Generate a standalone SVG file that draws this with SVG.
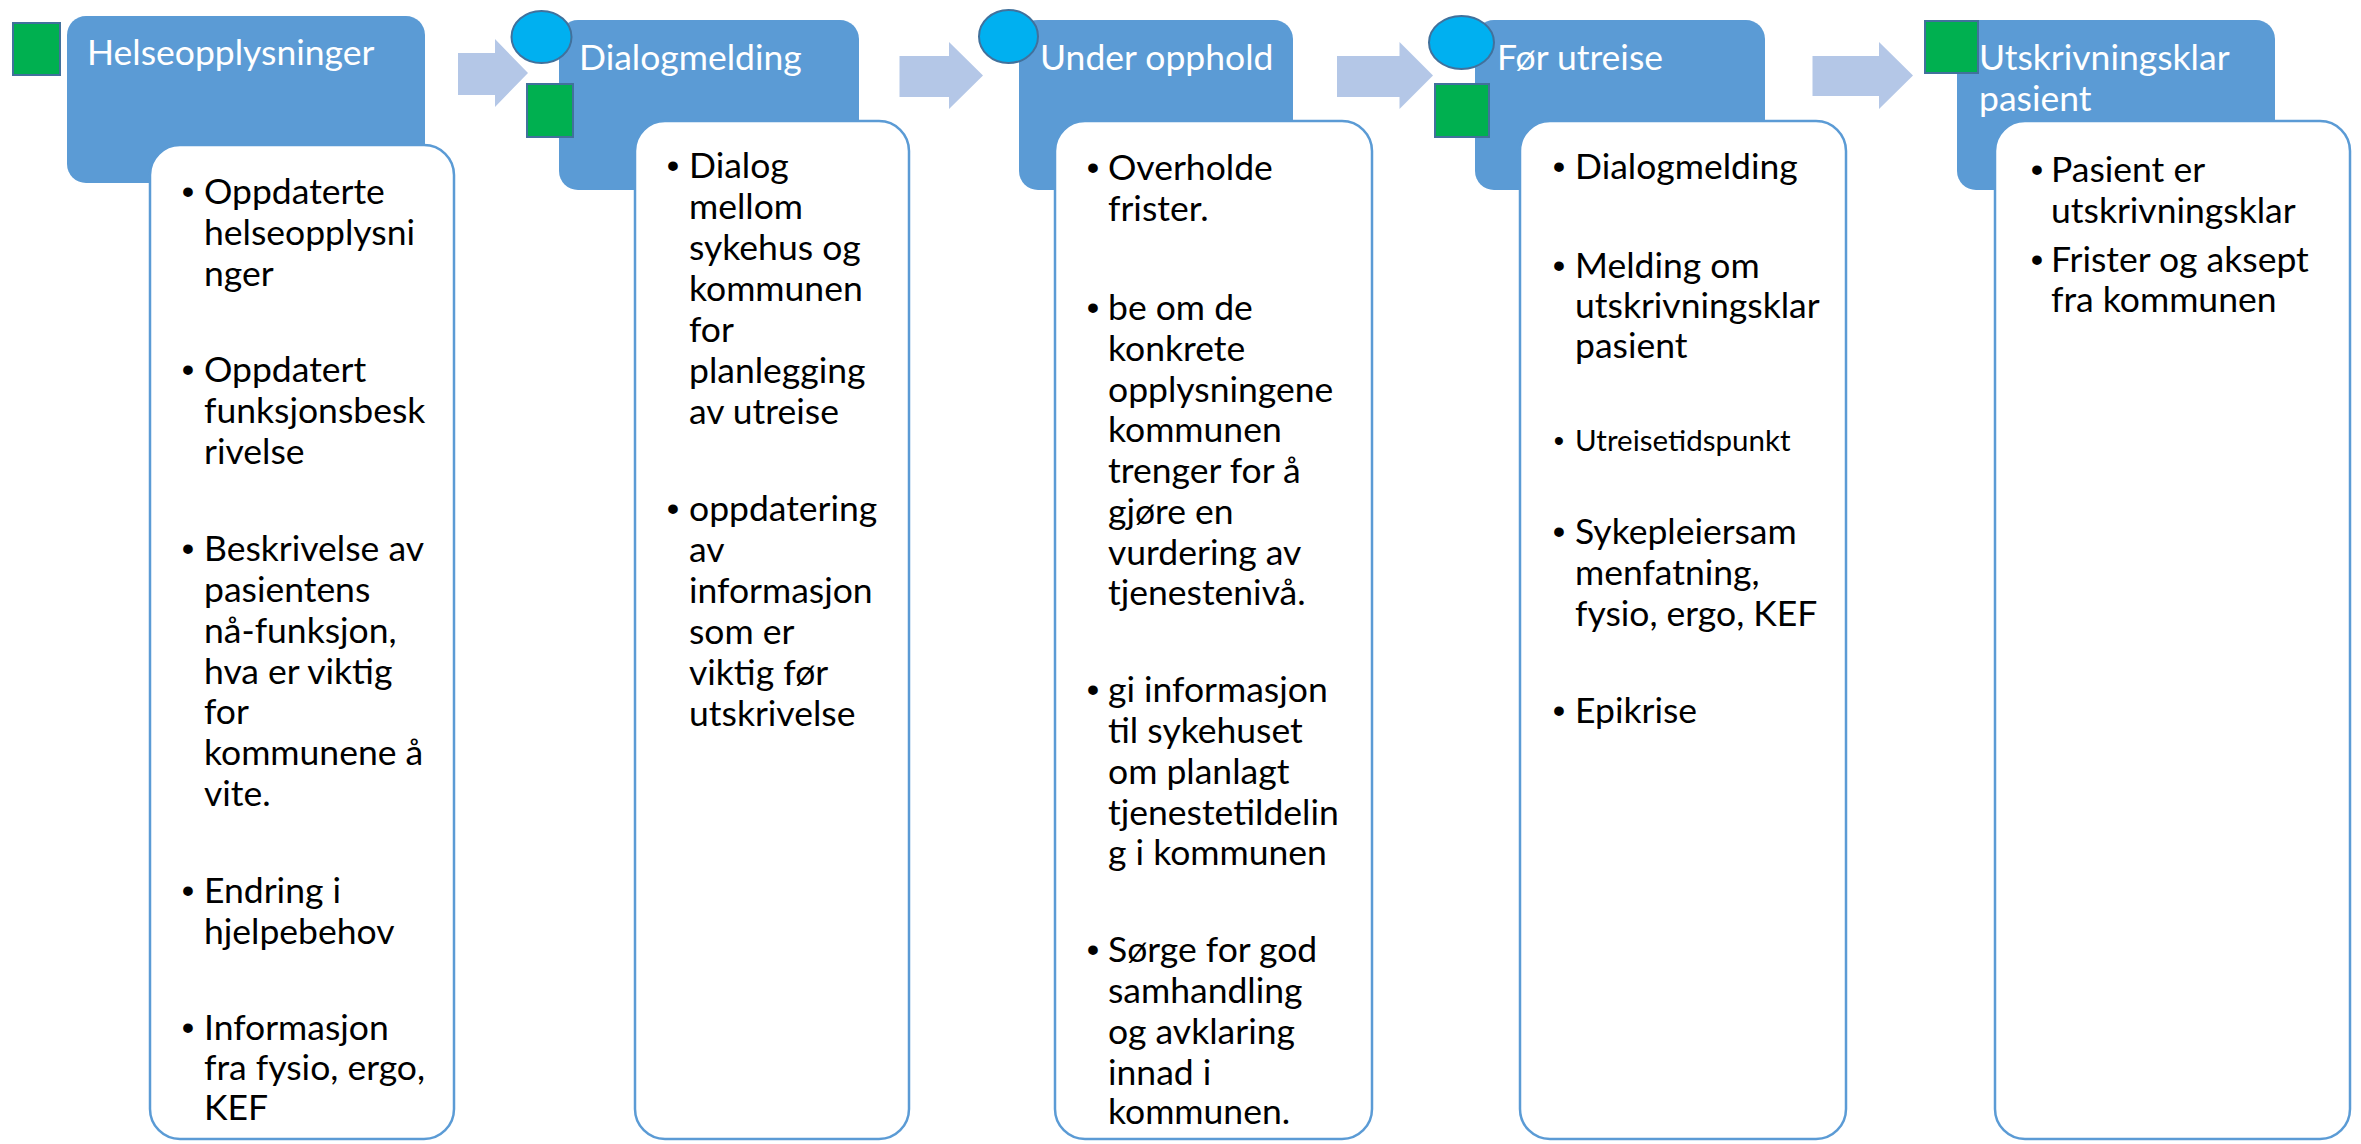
<svg xmlns="http://www.w3.org/2000/svg" width="2361" height="1144" viewBox="0 0 2361 1144">
<style>
.bg{fill:#ffffff}
.hdr{fill:#5B9BD5}
.htxt{font-family:Lato,"Liberation Sans",sans-serif;font-size:35.5px;fill:#ffffff}
.box{fill:#ffffff;stroke:#5B9BD5;stroke-width:2.5}
.btxt{font-family:Lato,"Liberation Sans",sans-serif;font-size:35.5px;fill:#000000}
.small{font-size:29.5px}
.bul{font-family:"Liberation Sans",sans-serif;font-size:35.5px;fill:#000000;text-anchor:middle}
.bul.small{font-size:29.5px}
.arrow{fill:#B4C7E7}
.circ{fill:#00B0F0;stroke:#41719C;stroke-width:2}
.sq{fill:#00B050;stroke:#41719C;stroke-width:2}
</style>
<rect class="bg" x="0" y="0" width="2361" height="1144"/>

<g id="connectors">
  <polygon class="arrow" points="458,53 495,53 495,39 528,73 495,107 495,95 458,95"/>
  <polygon class="arrow" points="899.5,56 949,56 949,42 983,75.5 949,109 949,97 899.5,97"/>
  <polygon class="arrow" points="1337,56 1399.5,56 1399.5,42 1433,75.5 1399.5,109 1399.5,97 1337,97"/>
  <polygon class="arrow" points="1812.5,56 1879,56 1879,42 1913,75.5 1879,109 1879,96 1812.5,96"/>
</g>

<g id="node-helseopplysninger">
  <rect class="hdr" x="67" y="16" width="358" height="167" rx="19"/>
  <text class="htxt" x="87" y="65">Helseopplysninger</text>
  <rect class="box" x="150" y="145" width="304" height="994" rx="30"/>
  <text class="bul" x="188" y="204">•</text>
  <text class="bul" x="188" y="382">•</text>
  <text class="bul" x="188" y="561">•</text>
  <text class="bul" x="188" y="903">•</text>
  <text class="bul" x="188" y="1040">•</text>
  <text class="btxt">
    <tspan x="204" y="204">Oppdaterte</tspan>
    <tspan x="204" y="245">helseopplysni</tspan>
    <tspan x="204" y="286">nger</tspan>
    <tspan x="204" y="382">Oppdatert</tspan>
    <tspan x="204" y="423">funksjonsbesk</tspan>
    <tspan x="204" y="464">rivelse</tspan>
    <tspan x="204" y="561">Beskrivelse av</tspan>
    <tspan x="204" y="602">pasientens</tspan>
    <tspan x="204" y="643">nå-funksjon,</tspan>
    <tspan x="204" y="684">hva er viktig</tspan>
    <tspan x="204" y="724">for</tspan>
    <tspan x="204" y="765">kommunene å</tspan>
    <tspan x="204" y="806">vite.</tspan>
    <tspan x="204" y="903">Endring i</tspan>
    <tspan x="204" y="944">hjelpebehov</tspan>
    <tspan x="204" y="1040">Informasjon</tspan>
    <tspan x="204" y="1080">fra fysio, ergo,</tspan>
    <tspan x="204" y="1120">KEF</tspan>
  </text>
</g>

<g id="node-dialogmelding">
  <rect class="hdr" x="559" y="20" width="300" height="170" rx="19"/>
  <text class="htxt" x="579" y="70">Dialogmelding</text>
  <rect class="box" x="635" y="121" width="274" height="1018" rx="30"/>
  <text class="bul" x="673" y="178">•</text>
  <text class="bul" x="673" y="521">•</text>
  <text class="btxt">
    <tspan x="689" y="178">Dialog</tspan>
    <tspan x="689" y="219">mellom</tspan>
    <tspan x="689" y="260">sykehus og</tspan>
    <tspan x="689" y="301">kommunen</tspan>
    <tspan x="689" y="342">for</tspan>
    <tspan x="689" y="383">planlegging</tspan>
    <tspan x="689" y="424">av utreise</tspan>
    <tspan x="689" y="521">oppdatering</tspan>
    <tspan x="689" y="562">av</tspan>
    <tspan x="689" y="603">informasjon</tspan>
    <tspan x="689" y="644">som er</tspan>
    <tspan x="689" y="685">viktig før</tspan>
    <tspan x="689" y="726">utskrivelse</tspan>
  </text>
</g>

<g id="node-under-opphold">
  <rect class="hdr" x="1019" y="20" width="274" height="170" rx="19"/>
  <text class="htxt" x="1040" y="70">Under opphold</text>
  <rect class="box" x="1055" y="121" width="317" height="1018" rx="30"/>
  <text class="bul" x="1093" y="180">•</text>
  <text class="bul" x="1093" y="320">•</text>
  <text class="bul" x="1093" y="702">•</text>
  <text class="bul" x="1093" y="962">•</text>
  <text class="btxt">
    <tspan x="1108" y="180">Overholde</tspan>
    <tspan x="1108" y="221">frister.</tspan>
    <tspan x="1108" y="320">be om de</tspan>
    <tspan x="1108" y="361">konkrete</tspan>
    <tspan x="1108" y="402">opplysningene</tspan>
    <tspan x="1108" y="442">kommunen</tspan>
    <tspan x="1108" y="483">trenger for å</tspan>
    <tspan x="1108" y="524">gjøre en</tspan>
    <tspan x="1108" y="565">vurdering av</tspan>
    <tspan x="1108" y="605">tjenestenivå.</tspan>
    <tspan x="1108" y="702">gi informasjon</tspan>
    <tspan x="1108" y="743">til sykehuset</tspan>
    <tspan x="1108" y="784">om planlagt</tspan>
    <tspan x="1108" y="825">tjenestetildelin</tspan>
    <tspan x="1108" y="865">g i kommunen</tspan>
    <tspan x="1108" y="962">Sørge for god</tspan>
    <tspan x="1108" y="1003">samhandling</tspan>
    <tspan x="1108" y="1044">og avklaring</tspan>
    <tspan x="1108" y="1085">innad i</tspan>
    <tspan x="1108" y="1124">kommunen.</tspan>
  </text>
</g>

<g id="node-for-utreise">
  <rect class="hdr" x="1475" y="20" width="290" height="170" rx="19"/>
  <text class="htxt" x="1497" y="70">Før utreise</text>
  <rect class="box" x="1520" y="121" width="326" height="1018" rx="30"/>
  <text class="bul" x="1559" y="179">•</text>
  <text class="bul" x="1559" y="278">•</text>
  <text class="bul small" x="1559" y="451">•</text>
  <text class="bul" x="1559" y="544">•</text>
  <text class="bul" x="1559" y="723">•</text>
  <text class="btxt">
    <tspan x="1575" y="179">Dialogmelding</tspan>
    <tspan x="1575" y="278">Melding om</tspan>
    <tspan x="1575" y="318">utskrivningsklar</tspan>
    <tspan x="1575" y="358">pasient</tspan>
    <tspan class="small" x="1575" y="451">Utreisetidspunkt</tspan>
    <tspan x="1575" y="544">Sykepleiersam</tspan>
    <tspan x="1575" y="585">menfatning,</tspan>
    <tspan x="1575" y="626">fysio, ergo, KEF</tspan>
    <tspan x="1575" y="723">Epikrise</tspan>
  </text>
</g>

<g id="node-utskrivningsklar-pasient">
  <rect class="hdr" x="1957" y="20" width="318" height="170" rx="19"/>
  <text class="htxt"><tspan x="1979" y="70">Utskrivningsklar</tspan><tspan x="1979" y="111">pasient</tspan></text>
  <rect class="box" x="1995" y="121" width="355" height="1018" rx="30"/>
  <text class="bul" x="2037" y="182">•</text>
  <text class="bul" x="2037" y="272">•</text>
  <text class="btxt">
    <tspan x="2051" y="182">Pasient er</tspan>
    <tspan x="2051" y="223">utskrivningsklar</tspan>
    <tspan x="2051" y="272">Frister og aksept</tspan>
    <tspan x="2051" y="312">fra kommunen</tspan>
  </text>
</g>

<g id="markers">
  <rect id="square-1" class="sq" x="13" y="23" width="47" height="52"/>
  <ellipse id="circle-2" class="circ" cx="541.5" cy="37" rx="30" ry="26"/>
  <rect id="square-2" class="sq" x="527" y="84" width="46" height="53"/>
  <ellipse id="circle-3" class="circ" cx="1008.5" cy="36.5" rx="29.5" ry="26.5"/>
  <ellipse id="circle-4" class="circ" cx="1461.5" cy="42.5" rx="32.5" ry="26.5"/>
  <rect id="square-4" class="sq" x="1435" y="84" width="54" height="53"/>
  <rect id="square-5" class="sq" x="1925" y="21" width="53" height="52"/>
</g>
</svg>
